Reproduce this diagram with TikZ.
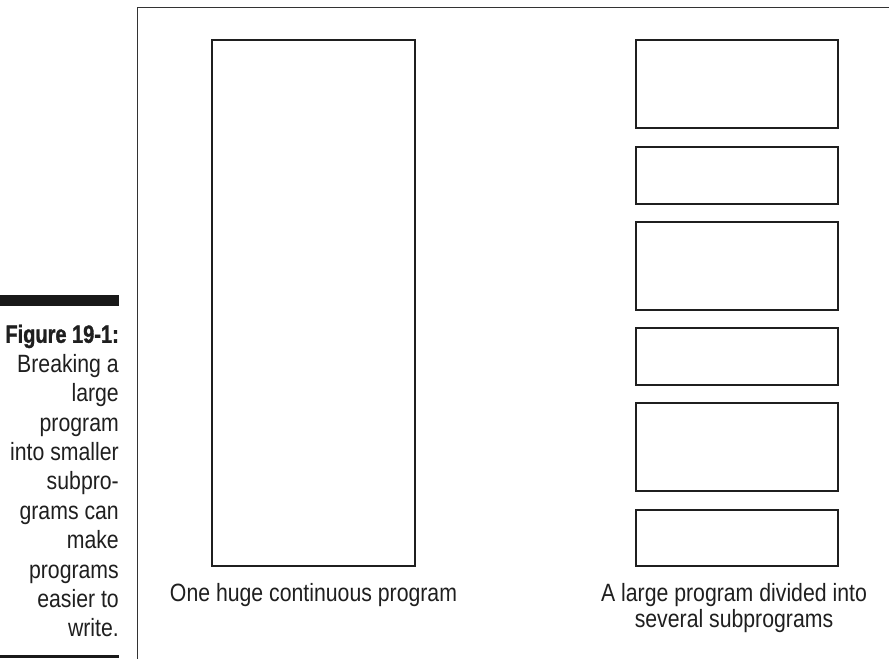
\documentclass[tikz,border=0pt]{standalone}
\usepackage{fontspec}
\setmainfont{Liberation Sans}[FakeStretch=0.85,BoldFeatures={FakeStretch=0.8,FakeBold=1.2}]
\begin{document}
\begin{tikzpicture}[x=1pt,y=-1pt,
  frameline/.style={draw=black!80,line width=1.3pt},
  prog/.style={draw=black!88,line width=2.2pt,fill=white},
  lbl/.style={font=\fontsize{25}{26.5}\selectfont,align=center,inner sep=0pt,text=black!88},
  captxt/.style={font=\fontsize{25}{29.4}\selectfont,align=right,inner sep=0pt,text=black!88}]
\useasboundingbox[fill=white] (0,0) rectangle (889,659);
% frame
\coordinate (ftop) at (889,7.5);
\coordinate (fcorner) at (137.5,7.5);
\coordinate (fbot) at (137.5,659);
\draw[frameline] (ftop) -- (fcorner) -- (fbot);
% caption bars
\fill[black!90] (0,295) rectangle (119,306);
\fill[black!90] (0,655) rectangle (119,658);
% caption
\node[captxt,anchor=north east] (cap) at (119,324.5) {\textbf{Figure 19-1:}\\Breaking a\\large\\program\\into smaller\\subpro-\\grams can\\make\\programs\\easier to\\write.};
% one huge program
\draw[prog] (212,40) rectangle (415,566);
% subprograms
\draw[prog] (636,40) rectangle (838,128);
\draw[prog] (636,147) rectangle (838,204);
\draw[prog] (636,222) rectangle (838,310);
\draw[prog] (636,328) rectangle (838,385);
\draw[prog] (636,403) rectangle (838,491);
\draw[prog] (636,510) rectangle (838,566);
% labels
\node[lbl,anchor=north] (l1) at (313.5,583) {One huge continuous program};
\node[lbl,anchor=north] (l2) at (734,583) {A large program divided into\\several subprograms};
\end{tikzpicture}
\end{document}
